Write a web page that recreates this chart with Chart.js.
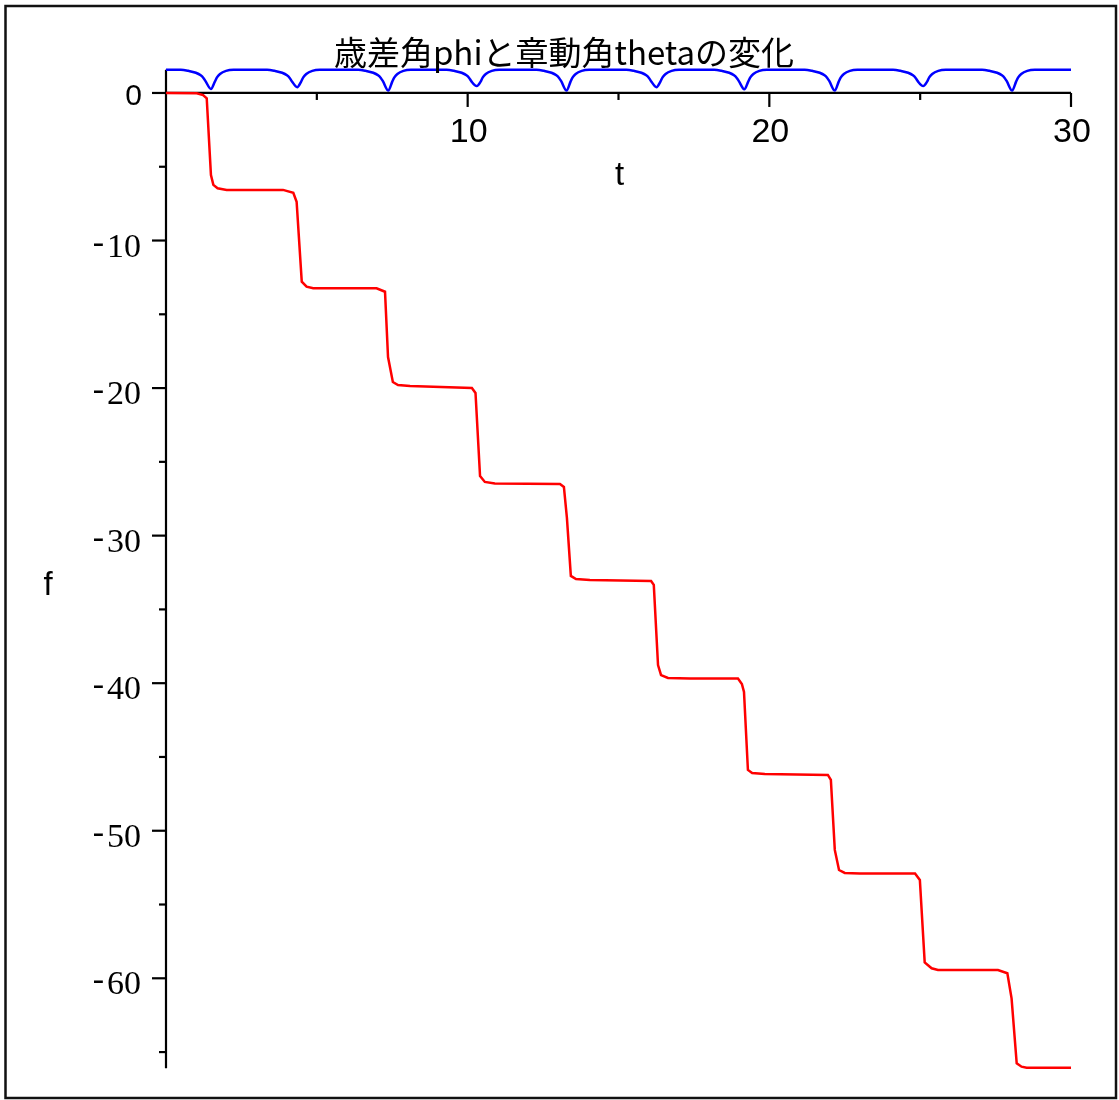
<!DOCTYPE html>
<html>
<head>
<meta charset="utf-8">
<script src="https://cdn.jsdelivr.net/npm/chart.js@4.4.1/dist/chart.umd.min.js"></script>
<style>
  html, body { margin: 0; padding: 0; background: #ffffff; }
  #c { display: block; }
</style>
</head>
<body>
<canvas id="c" width="1119" height="1100"></canvas>
<script>
// ---- chart text ----
const chartTitle = '歳差角phiと章動角thetaの変化';
const xAxisLabel = 't';
const yAxisLabel = 'f';

// ---- axis ranges and ticks ----
const xMin = 0, xMax = 30;
const yMin = -66.1, yMax = 1.57;
const xMajorTicks = [10, 20, 30];
const xMajorLabels = ['10', '20', '30'];
const xMinorTicks = [5, 15, 25];
const yMajorTicks = [0, -10, -20, -30, -40, -50, -60];
const yMajorLabels = ['0', '10', '20', '30', '40', '50', '60'];
const yMinorTicks = [-5, -15, -25, -35, -45, -55, -65];

// ---- series: precession angle phi (red) ----
const phiT = [0, 1.02, 1.23, 1.35, 1.49, 1.57, 1.71, 2.01,
  3.88, 4.22, 4.33, 4.50, 4.66, 4.88,
  6.98, 7.26, 7.36, 7.52, 7.69, 8.09,
  10.14, 10.26, 10.41, 10.57, 10.90,
  13.06, 13.19, 13.29, 13.42, 13.59, 14.05,
  16.08, 16.17, 16.31, 16.41, 16.64, 17.37,
  18.96, 19.09, 19.16, 19.29, 19.43, 19.85,
  21.94, 22.04, 22.17, 22.31, 22.50, 23.00,
  24.83, 24.99, 25.15, 25.38, 25.59,
  27.58, 27.89, 28.03, 28.20, 28.36, 28.53, 30];
const phiV = [0, -0.02, -0.14, -0.36, -5.56, -6.23, -6.46, -6.57,
  -6.57, -6.76, -7.37, -12.79, -13.13, -13.24,
  -13.24, -13.47, -17.90, -19.59, -19.79, -19.86,
  -19.99, -20.33, -25.96, -26.36, -26.47,
  -26.50, -26.70, -28.80, -32.73, -32.94, -33.00,
  -33.07, -33.34, -38.77, -39.45, -39.65, -39.68,
  -39.68, -40.05, -40.60, -45.88, -46.09, -46.16,
  -46.22, -46.56, -51.30, -52.66, -52.86, -52.90,
  -52.90, -53.34, -58.92, -59.32, -59.44,
  -59.44, -59.66, -61.36, -65.76, -65.99, -66.06, -66.06];

// ---- series: nutation angle theta (blue) ----
const thetaT = [0,
  0.49, 0.74, 0.99, 1.15, 1.24, 1.31, 1.49, 1.62, 1.69, 1.79, 1.99, 2.24,
  3.35, 3.60, 3.85, 4.01, 4.10, 4.17, 4.35, 4.48, 4.55, 4.65, 4.85, 5.10,
  6.37, 6.62, 6.87, 7.03, 7.12, 7.19, 7.37, 7.50, 7.57, 7.67, 7.87, 8.12,
  9.30, 9.55, 9.80, 9.96, 10.05, 10.12, 10.30, 10.43, 10.50, 10.60, 10.80, 11.05,
  12.28, 12.53, 12.78, 12.94, 13.03, 13.10, 13.28, 13.41, 13.48, 13.58, 13.78, 14.03,
  15.26, 15.51, 15.76, 15.92, 16.01, 16.08, 16.26, 16.39, 16.46, 16.56, 16.76, 17.01,
  18.17, 18.42, 18.67, 18.83, 18.92, 18.99, 19.17, 19.30, 19.37, 19.47, 19.67, 19.92,
  21.17, 21.42, 21.67, 21.83, 21.92, 21.99, 22.17, 22.30, 22.37, 22.47, 22.67, 22.92,
  24.10, 24.35, 24.60, 24.76, 24.85, 24.92, 25.10, 25.23, 25.30, 25.40, 25.60, 25.85,
  27.05, 27.30, 27.55, 27.71, 27.80, 27.87, 28.05, 28.18, 28.25, 28.35, 28.55, 28.80,
  30];
const thetaV = [1.57,
  1.57, 1.50, 1.37, 1.20, 1.02, 0.80, 0.27, 0.77, 1.06, 1.29, 1.50, 1.57,
  1.57, 1.50, 1.37, 1.20, 1.02, 0.80, 0.39, 0.77, 1.06, 1.29, 1.50, 1.57,
  1.57, 1.50, 1.37, 1.20, 1.02, 0.80, 0.16, 0.77, 1.06, 1.29, 1.50, 1.57,
  1.57, 1.50, 1.37, 1.20, 1.02, 0.80, 0.47, 0.77, 1.06, 1.29, 1.50, 1.57,
  1.57, 1.50, 1.37, 1.20, 1.02, 0.80, 0.16, 0.77, 1.06, 1.29, 1.50, 1.57,
  1.57, 1.50, 1.37, 1.20, 1.02, 0.80, 0.39, 0.77, 1.06, 1.29, 1.50, 1.57,
  1.57, 1.50, 1.37, 1.20, 1.02, 0.80, 0.25, 0.77, 1.06, 1.29, 1.50, 1.57,
  1.57, 1.50, 1.37, 1.20, 1.02, 0.80, 0.16, 0.77, 1.06, 1.29, 1.50, 1.57,
  1.57, 1.50, 1.37, 1.20, 1.02, 0.80, 0.47, 0.77, 1.06, 1.29, 1.50, 1.57,
  1.57, 1.50, 1.37, 1.20, 1.02, 0.80, 0.16, 0.77, 1.06, 1.29, 1.50, 1.57,
  1.57];

const SANS = '"Liberation Sans Narrow", "Liberation Sans", Arial, sans-serif';
const SERIF = '"Liberation Serif", "Times New Roman", serif';

const mapleAxes = {
  id: 'mapleAxes',
  beforeDatasetsDraw(chart) {
    const ctx = chart.ctx;
    const xs = chart.scales.x, ys = chart.scales.y;
    const X = v => xs.getPixelForValue(v);
    const Y = v => ys.getPixelForValue(v);
    const ox = X(0), oy = Y(0);
    const seg = (a, b, c, d) => { ctx.beginPath(); ctx.moveTo(a, b); ctx.lineTo(c, d); ctx.stroke(); };
    ctx.save();
    ctx.strokeStyle = '#000000';
    ctx.lineWidth = 2.2;
    ctx.lineCap = 'butt';
    // axis lines
    seg(ox, oy, X(xMax), oy);
    seg(ox, Y(yMax), ox, Y(yMin));
    // x ticks
    xMinorTicks.forEach(v => seg(X(v), oy, X(v), oy + 7));
    xMajorTicks.forEach(v => seg(X(v), oy, X(v), oy + 14));
    // y ticks
    yMinorTicks.forEach(v => seg(ox - 7, Y(v), ox, Y(v)));
    yMajorTicks.forEach(v => seg(ox - 14, Y(v), ox, Y(v)));

    ctx.fillStyle = '#000000';
    // x tick labels
    ctx.font = '34px ' + SANS;
    ctx.textAlign = 'center';
    ctx.textBaseline = 'alphabetic';
    xMajorTicks.forEach((v, i) => ctx.fillText(xMajorLabels[i], X(v) + 1, oy + 49));
    // axis titles
    ctx.font = '33px ' + SANS;
    ctx.fillText(xAxisLabel, (X(xMin) + X(xMax)) / 2 + 1, oy + 92);
    ctx.fillText(yAxisLabel, 48, 595);
    // y tick labels
    yMajorTicks.forEach((v, i) => {
      const ty = Y(v);
      ctx.textAlign = 'right';
      if (v === 0) {
        ctx.font = '30px ' + SANS;
        ctx.fillText(yMajorLabels[i], ox - 24, ty + 12);
      } else {
        ctx.font = '34px ' + SERIF;
        ctx.fillText(yMajorLabels[i], ox - 25, ty + 16);
        ctx.fillText('-', ox - 62, ty + 12);
      }
    });
    ctx.restore();
  },
  afterDraw(chart) {
    const ctx = chart.ctx;
    ctx.save();
    // frame
    ctx.strokeStyle = '#111111';
    ctx.lineWidth = 2.5;
    ctx.strokeRect(5.5, 6, 1110.5, 1092);
    // title
    ctx.fillStyle = '#000000';
    ctx.font = '33px "Noto Sans CJK JP", "Noto Sans", sans-serif';
    ctx.textAlign = 'center';
    ctx.textBaseline = 'middle';
    ctx.fillText(chartTitle, 564, 52);
    ctx.restore();
  }
};

new Chart(document.getElementById('c'), {
  type: 'line',
  data: {
    datasets: [
      {
        label: 'phi',
        data: phiT.map((t, i) => ({ x: t, y: phiV[i] })),
        borderColor: '#ff0000',
        borderWidth: 2.5,
        pointRadius: 0,
        tension: 0,
        clip: false
      },
      {
        label: 'theta',
        data: thetaT.map((t, i) => ({ x: t, y: thetaV[i] })),
        borderColor: '#0000ff',
        borderWidth: 2.5,
        pointRadius: 0,
        tension: 0,
        cubicInterpolationMode: 'monotone',
        clip: false
      }
    ]
  },
  options: {
    responsive: false,
    animation: false,
    devicePixelRatio: 1,
    layout: { padding: { left: 166, right: 48, top: 69.8, bottom: 31.7 } },
    scales: {
      x: { type: 'linear', min: xMin, max: xMax, display: false },
      y: { type: 'linear', min: yMin, max: yMax, display: false }
    },
    plugins: {
      legend: { display: false },
      tooltip: { enabled: false },
      title: { display: false }
    }
  },
  plugins: [mapleAxes]
});
</script>
</body>
</html>
